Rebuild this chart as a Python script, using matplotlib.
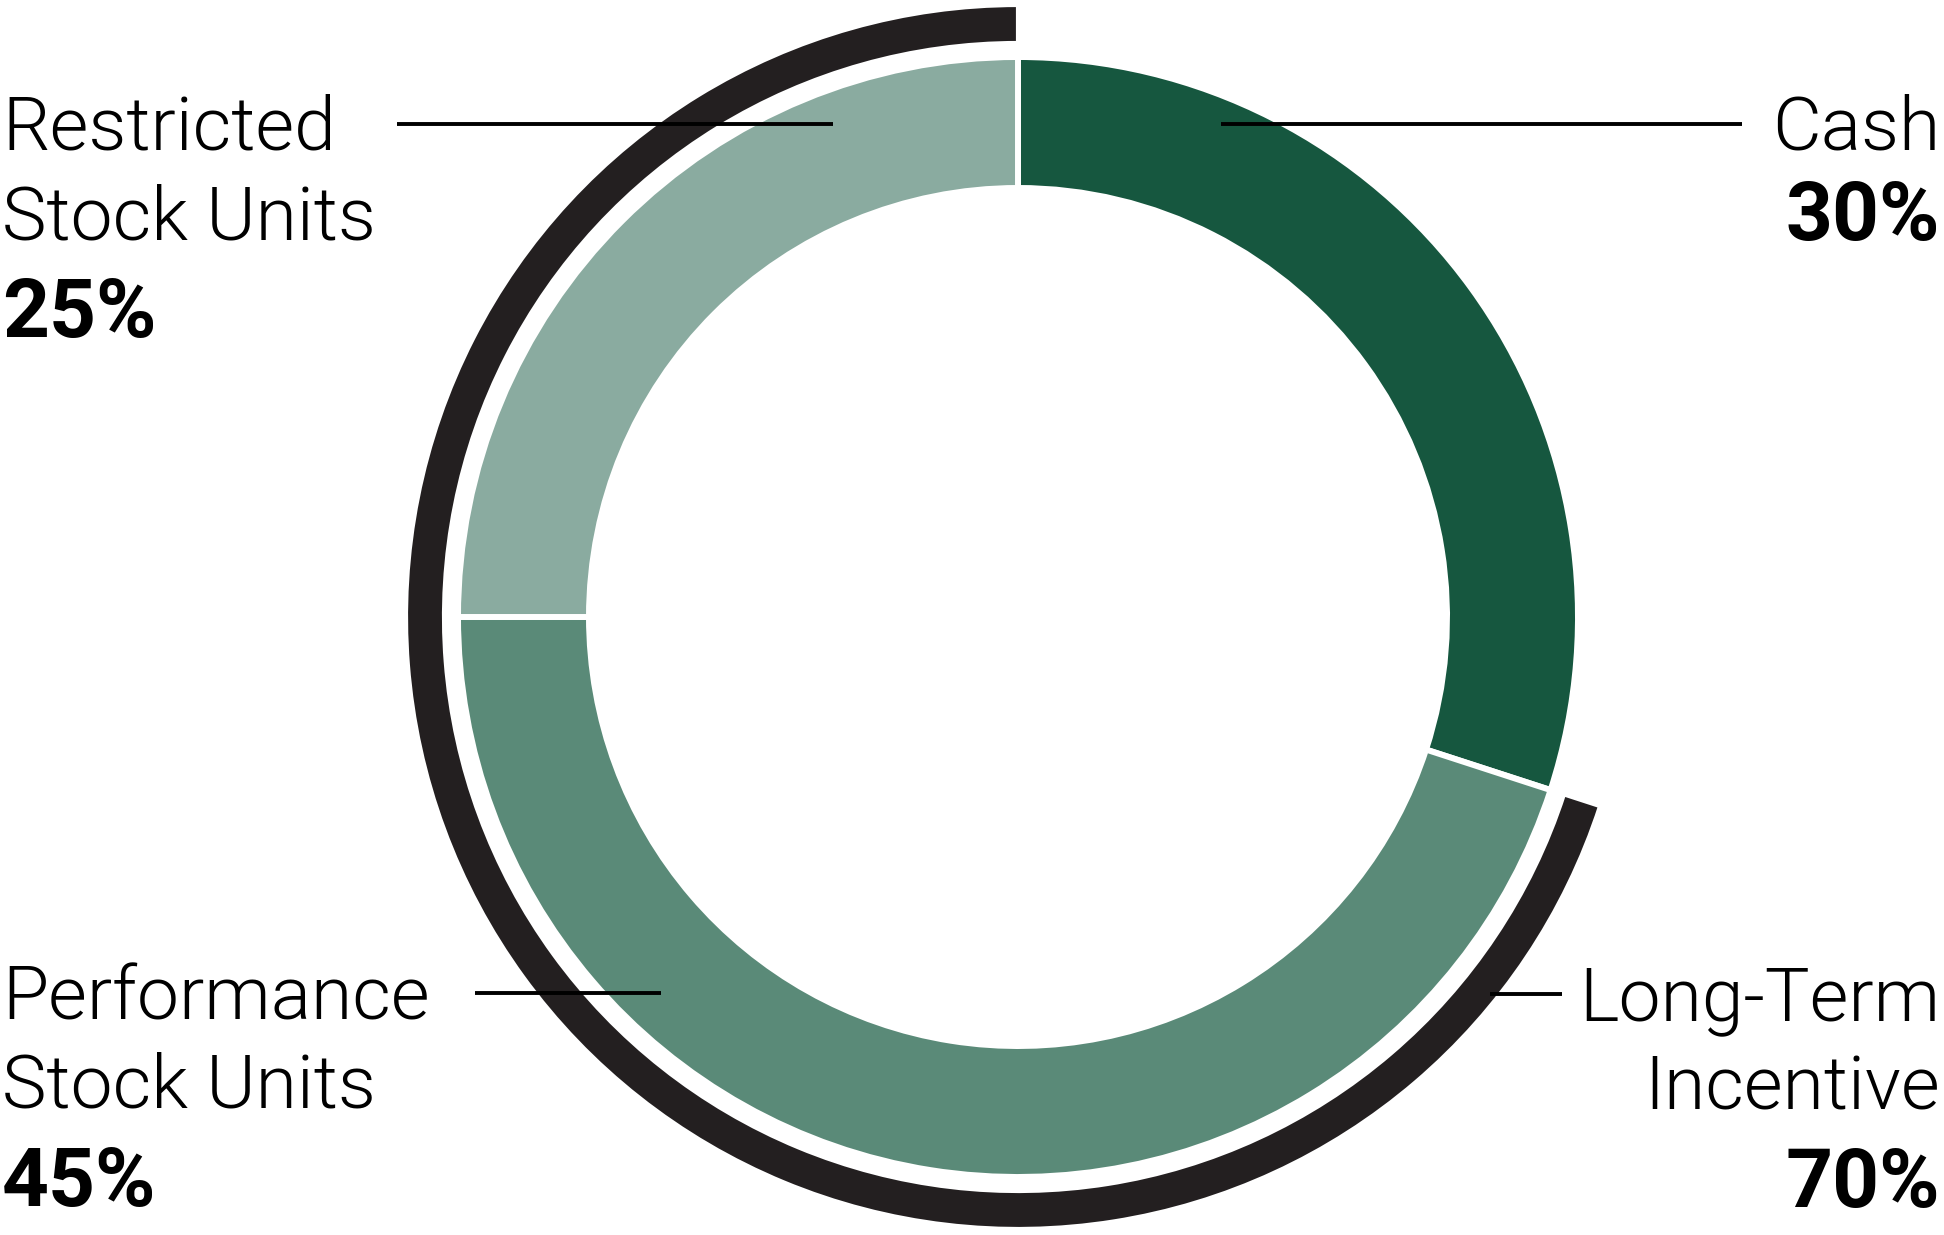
import matplotlib
matplotlib.use('Agg')
import matplotlib.pyplot as plt

# Dados do gráfico (ordem horária a partir do topo)
categorias = ['Cash', 'Performance Stock Units', 'Restricted Stock Units']
percentuais = [30, 45, 25]
cores = ['#16573f', '#5a8a78', '#8aaba0']

# Arco externo: remuneração de longo prazo
arco_valores = [30, 70]  # Cash (sem arco), Long-Term Incentive
arco_cores = ['none', '#231f20']

W, H = 1944, 1235
fig = plt.figure(figsize=(W / 100, H / 100), dpi=100)
ax = fig.add_axes([0, 0, 1, 1])

centro = (1018, 618)

# Anel interno
ax.pie(percentuais, colors=cores, startangle=90, counterclock=False,
       radius=560, center=centro, frame=True,
       wedgeprops=dict(width=131, edgecolor='white', linewidth=4.3))

# Arco preto (70% - Long-Term Incentive)
cunhas, _ = ax.pie(arco_valores, colors=arco_cores, startangle=90, counterclock=False,
                   radius=612, center=centro, frame=True,
                   wedgeprops=dict(width=38, edgecolor='white', linewidth=3))
cunhas[0].set_edgecolor('none')

ax.set_xlim(0, W)
ax.set_ylim(0, H)
ax.set_aspect('equal')
ax.axis('off')

# Linhas guia
linha = dict(color='black', linewidth=2.8, solid_capstyle='butt', zorder=10)
ax.plot([397, 833], [H - 124, H - 124], **linha)
ax.plot([1221, 1742], [H - 124, H - 124], **linha)
ax.plot([475, 661], [H - 993, H - 993], **linha)
ax.plot([1490, 1562], [H - 994, H - 994], **linha)

leve = dict(fontsize=54, family='Roboto', fontweight=300, color='black', va='baseline')
negrito = dict(fontsize=59, family='Roboto', fontweight='bold', color='black', va='baseline')

# Rótulos à esquerda
ax.text(2, H - 150, 'Restricted', ha='left', **leve)
ax.text(2, H - 240, 'Stock Units', ha='left', **leve)
ax.text(2, H - 337, '25%', ha='left', **negrito)

ax.text(2, H - 1019, 'Performance', ha='left', **leve)
ax.text(2, H - 1108, 'Stock Units', ha='left', **leve)
ax.text(2, H - 1206, '45%', ha='left', **negrito)

# Rótulos à direita
ax.text(1940, H - 149, 'Cash', ha='right', **leve)
ax.text(1940, H - 240, '30%', ha='right', **negrito)

ax.text(1940, H - 1020, 'Long-Term', ha='right', **leve)
ax.text(1940, H - 1109, 'Incentive', ha='right', **leve)
ax.text(1940, H - 1207, '70%', ha='right', **negrito)

fig.savefig('out.png', dpi=100, facecolor='white')
